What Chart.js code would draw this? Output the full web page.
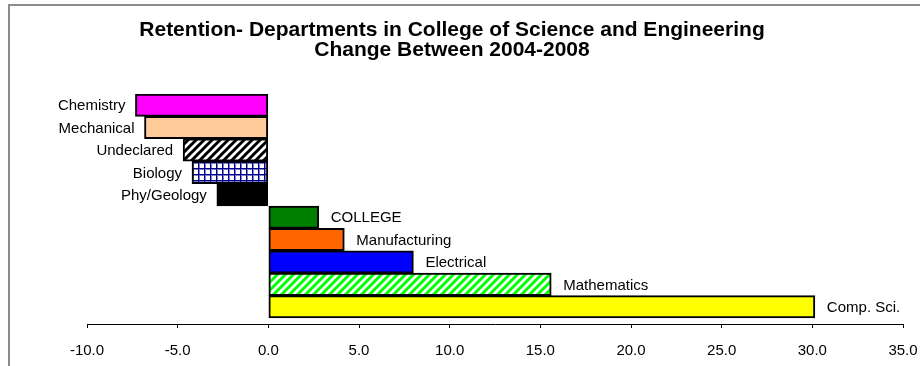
<!DOCTYPE html>
<html>
<head>
<meta charset="utf-8">
<script src="https://cdn.jsdelivr.net/npm/chart.js@4/dist/chart.umd.min.js"></script>
<style>
html,body{margin:0;padding:0;background:#fff;}
#wrap{width:920px;height:366px;position:relative;}
</style>
</head>
<body>
<div id="wrap"><canvas id="c" width="920" height="366"></canvas></div>
<script>
// ---- data ----
const categories = ["Chemistry","Mechanical","Undeclared","Biology","Phy/Geology","COLLEGE","Manufacturing","Electrical","Mathematics","Comp. Sci."];
const changeValues = [-7.33,-6.83,-4.70,-4.21,-2.84,2.78,4.19,8.0,15.6,30.14];
const xTicks = [-10,-5,0,5,10,15,20,25,30,35];
const titleLines = ["Retention- Departments in College of Science and Engineering","Change Between 2004-2008"];

// ---- patterns ----
function stripes(color){
  const c=document.createElement('canvas');c.width=8;c.height=8;
  const g=c.getContext('2d');
  g.fillStyle='#fff';g.fillRect(0,0,8,8);
  g.strokeStyle=color;g.lineWidth=3;g.lineCap='square';
  g.beginPath();
  g.moveTo(0,8);g.lineTo(8,0);
  g.moveTo(-8,8);g.lineTo(8,-8);
  g.moveTo(0,16);g.lineTo(16,0);
  g.stroke();
  return g.createPattern(c,'repeat');
}
function grid(color,soft){
  const c=document.createElement('canvas');c.width=6;c.height=6;
  const g=c.getContext('2d');
  g.fillStyle='#fff';g.fillRect(0,0,6,6);
  g.fillStyle=soft;
  g.fillRect(0,1,6,1);g.fillRect(1,0,1,6);
  g.fillStyle=color;
  g.fillRect(0,0,6,1);g.fillRect(0,0,1,6);
  return g.createPattern(c,'repeat');
}
const fills = ["#FF00FF","#FFCC99",stripes('#000'),grid('#000090','#7f7fc4'),"#000000","#008000","#FF6600","#0000FF",stripes('#00FF00'),"#FFFF00"];

const frame = {
  id:'frame',
  beforeDraw(chart){
    const ctx=chart.ctx;
    ctx.save();
    ctx.fillStyle='#fff';ctx.fillRect(0,0,chart.width,chart.height);
    ctx.fillStyle='#8c8c8c';
    ctx.fillRect(8,4,chart.width-8,2);
    ctx.fillRect(8,4,2,chart.height-4);
    ctx.restore();
  }
};
const barLabels = {
  id:'barLabels',
  afterDatasetsDraw(chart){
    const ctx=chart.ctx;
    const meta=chart.getDatasetMeta(0);
    ctx.save();
    ctx.font='15px "Liberation Sans", Arial, sans-serif';
    ctx.fillStyle='#000';
    ctx.textBaseline='middle';
    meta.data.forEach((bar,i)=>{
      const v=changeValues[i];
      if(v<0){ctx.textAlign='right';ctx.fillText(categories[i],bar.x-10,bar.y+1);}
      else{ctx.textAlign='left';ctx.fillText(categories[i],bar.x+12,bar.y+1);}
    });
    ctx.restore();
  }
};

new Chart(document.getElementById('c'),{
  type:'bar',
  data:{
    datasets:[{
      data:changeValues.map((v,i)=>({x:v,y:i})),
      backgroundColor:fills,
      borderColor:'#000',
      borderWidth:2,
      borderSkipped:false,
      barPercentage:1,
      categoryPercentage:1
    }]
  },
  options:{
    indexAxis:'y',
    responsive:false,
    animation:false,
    layout:{padding:{left:0,right:16,top:8,bottom:6}},
    plugins:{
      legend:{display:false},
      tooltip:{enabled:false},
      title:{
        display:true,
        text:titleLines,
        color:'#000',
        font:{family:'"Liberation Sans", Arial, sans-serif',size:21,weight:'bold',lineHeight:'20px'},
        padding:{top:12,bottom:34}
      }
    },
    scales:{
      y:{type:'linear',min:-0.5,max:9.77,reverse:true,offset:false,display:false},
      x:{
        type:'linear',min:xTicks[0],max:xTicks[xTicks.length-1],
        afterBuildTicks(scale){scale.ticks=xTicks.map(v=>({value:v}));},
        afterFit(scale){scale.height=36;scale.paddingLeft=87;scale.paddingRight=17;},
        ticks:{color:'#000',font:{family:'"Liberation Sans", Arial, sans-serif',size:15,lineHeight:1.2},padding:14,callback:v=>Number(v).toFixed(1),maxRotation:0},
        grid:{drawOnChartArea:false,drawTicks:true,tickLength:4,color:'#000'},
        border:{display:true,color:'#000',width:1}
      }
    }
  },
  plugins:[frame,barLabels]
});
</script>
</body>
</html>
